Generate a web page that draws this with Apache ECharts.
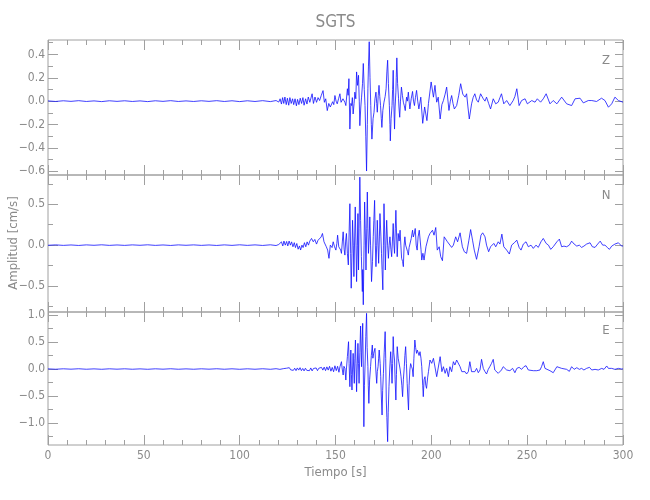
<!DOCTYPE html>
<html><head><meta charset="utf-8">
<script src="https://cdn.jsdelivr.net/npm/echarts@6/dist/echarts.min.js"></script>
<style>html,body{margin:0;padding:0;background:#fff}#c{width:650px;height:500px}</style>
</head><body><div id="c"></div>
<script>
const xMajor = [0,50,100,150,200,250,300];
const xMinor = [10,20,30,40,60,70,80,90,110,120,130,140,160,170,180,190,210,220,230,240,260,270,280,290];
const zMajor = [-0.6,-0.4,-0.2,0,0.2,0.4];
const zMinor = [-0.5,-0.3,-0.1,0.1,0.3,0.5];
const nMajor = [-0.5,0,0.5];
const nMinor = [-0.75,-0.25,0.25,0.75];
const eMajor = [-1,-0.5,0,0.5,1];
const eMinor = [-1.25,-0.75,-0.25,0.25,0.75];
const zLimits = [-0.632, 0.523];
const nLimits = [-0.82, 0.86];
const eLimits = [-1.407, 1.056];
const panelNames = ['Z','N','E'];
const titleText = 'SGTS';
const xName = 'Tiempo [s]';
const yName = 'Amplitud [cm/s]';

const zTrace = [[0,0.002],[4,-0.003],[8,0.003],[12,-0.002],[16,0.004],[20,-0.003],[24,0.002],[28,-0.004],[32,0.003],[36,-0.002],[40,0.003],[44,-0.003],[48,0.002],[52,-0.004],[56,0.003],[60,-0.002],[64,0.004],[68,-0.003],[72,0.002],[76,-0.003],[80,0.003],[84,-0.002],[88,0.004],[92,-0.003],[96,0.003],[100,-0.004],[104,0.003],[108,-0.003],[112,0.004],[116,-0.004],[119,0.005],[120.4,-0.008],
[121.1,0.02],[121.8,-0.025],[122.4,0.03],[123.0,-0.02],[123.6,0.035],[124.3,-0.03],[124.9,0.025],[125.6,-0.035],[126.2,0.03],[126.9,-0.02],[127.6,0.02],[128.2,-0.03],[128.9,0.02],[129.6,-0.04],[130.2,0.015],[130.9,-0.03],[131.6,0.025],[132.3,-0.02],[133.0,0.03],[133.6,-0.035],[134.4,0.02],[135.1,-0.025],[135.8,0.035],[136.6,-0.01],[137.8,0.063],[138.5,-0.02],[139.3,0.035],[140.1,-0.01],[140.9,0.03],[141.7,0.005],[142.6,0.05],[143.5,0.09],[144.2,-0.01],[144.9,0.02],[145.7,-0.081],[146.5,-0.02],[147.3,-0.05],[148.5,-0.005],[149.1,-0.03],[149.7,0.048],[150.3,0.0],[150.9,-0.023],[151.6,0.02],[152.3,0.063],[152.9,-0.01],[153.5,-0.023],[153.9,0.02],[154.3,0.034],[154.9,-0.01],[155.4,-0.038],[156.2,0.106],[156.6,0.05],[157.0,0.192],[157.5,-0.239],[158.0,-0.02],[158.4,-0.038],[158.8,0.03],[159.2,-0.11],[159.7,-0.02],[160.1,0.077],[160.6,0.02],[161.0,0.25],[161.5,0.135],[162.0,0.221],[162.4,0.0],[162.7,-0.21],[163.2,-0.05],[163.6,0.034],[164.1,0.15],[164.5,0.322],[165.0,0.1],[165.4,-0.038],[165.8,-0.3],[166.2,-0.598],[166.6,-0.2],[166.9,0.106],[167.2,0.3],[167.6,0.508],[168.0,0.2],[168.4,-0.038],[168.7,-0.2],[169.0,-0.325],[169.6,-0.15],[170.1,-0.095],[170.6,0.02],[171.1,0.077],[171.5,-0.02],[171.8,-0.095],[172.3,0.05],[172.7,0.135],[173.1,0.04],[173.5,-0.038],[173.9,-0.15],[174.2,-0.225],[174.7,-0.08],[175.3,-0.009],[175.9,0.04],[176.4,0.106],[176.8,0.25],[177.2,0.35],[177.6,0.15],[178.1,-0.038],[178.4,-0.2],[178.6,-0.34],[179.0,-0.15],[179.5,-0.038],[179.8,0.1],[180.1,0.264],[180.4,0.0],[180.8,-0.239],[181.1,-0.05],[181.5,0.077],[181.7,0.2],[182.0,0.37],[182.4,0.15],[182.9,0.02],[183.1,-0.05],[183.5,-0.138],[183.9,0.0],[184.4,0.12],[184.9,0.05],[185.4,-0.009],[185.9,-0.04],[186.4,-0.081],[186.7,-0.02],[187.1,0.034],[187.5,0.0],[188.0,0.077],[188.4,0.0],[188.8,-0.067],[189.5,0.02],[190.2,0.083],[190.7,0.0],[191.2,-0.038],[191.7,0.03],[192.3,0.092],[192.9,0.0],[193.5,-0.067],[194.5,0.034],[195.5,-0.19],[196.5,-0.05],[197.7,-0.167],[198.5,-0.02],[199.9,0.164],[201.1,0.034],[201.9,0.135],[202.8,-0.009],[203.6,0.034],[204.6,-0.153],[205.5,-0.03],[206.3,0.005],[207.2,0.06],[208.0,0.12],[208.7,0.0],[209.2,-0.08],[209.9,0.0],[210.6,0.048],[211.3,-0.02],[212.0,-0.067],[213.2,-0.038],[214.3,0.05],[215.3,0.149],[216.4,0.06],[217.6,0.034],[218.4,0.063],[219.1,-0.05],[219.8,-0.153],[221.0,-0.023],[221.8,0.03],[222.7,0.063],[223.6,0.01],[224.5,-0.009],[225.7,0.063],[227.1,0.02],[228.0,0.0],[228.8,0.034],[229.9,-0.02],[230.9,-0.067],[232.3,0.02],[233.6,-0.023],[234.9,-0.009],[235.8,0.03],[236.6,0.063],[237.8,-0.023],[239.3,0.005],[241.0,-0.038],[242.7,0.005],[243.6,0.04],[244.6,0.106],[245.8,-0.038],[247.1,0.005],[248.9,0.02],[250.1,-0.023],[252.4,0.005],[254.1,-0.009],[255.3,0.02],[257.0,-0.009],[258.4,0.02],[259.9,0.063],[261.9,-0.023],[263.6,0.005],[265.5,-0.023],[268.0,0.034],[270.6,-0.023],[273.2,-0.038],[275.0,0.02],[277.6,0.025],[279.3,-0.015],[281.9,0.005],[283.7,0.005],[286.2,-0.003],[288.8,0.025],[290.6,0.005],[292.4,-0.052],[294.1,-0.023],[295.8,0.034],[297.6,0.005],[300,-0.009]];

const nTrace = [[0,-0.002],[4,0.003],[8,-0.003],[12,0.002],[16,-0.004],[20,0.003],[24,-0.002],[28,0.004],[32,-0.003],[36,0.002],[40,-0.003],[44,0.003],[48,-0.002],[52,0.004],[56,-0.003],[60,0.002],[64,-0.004],[68,0.003],[72,-0.002],[76,0.003],[80,-0.003],[84,0.002],[88,-0.004],[92,0.003],[96,-0.003],[100,0.004],[104,-0.003],[108,0.003],[112,-0.004],[116,0.004],[119,-0.005],[120.4,0.008],
[121.1,0.01],[121.8,0.04],[122.5,-0.01],[123.1,0.05],[123.8,0.0],[124.5,0.045],[125.1,-0.01],[125.8,0.05],[126.5,0.0],[127.1,0.04],[127.8,-0.02],[128.5,0.03],[129.1,-0.03],[129.8,0.02],[130.5,-0.05],[131.2,-0.01],[131.8,-0.06],[132.5,0.0],[133.1,-0.03],[133.8,0.03],[134.5,-0.02],[135.2,0.04],[135.9,0.0],[136.6,0.05],[137.5,0.082],[138.4,0.041],[139.2,0.07],[140.1,0.013],[140.9,0.06],[141.8,0.061],[142.5,0.1],[143.2,0.143],[144.0,0.041],[144.7,0.06],[145.2,-0.02],[145.9,-0.06],[146.6,-0.162],[147.3,0.0],[148.2,-0.03],[148.8,0.041],[149.5,-0.02],[150.2,-0.061],[150.7,0.02],[151.1,0.122],[151.7,-0.02],[152.3,0.0],[152.7,-0.06],[153.1,-0.101],[153.6,0.05],[154.0,0.163],[154.5,-0.05],[154.9,-0.122],[155.3,0.05],[155.7,0.143],[156.2,-0.1],[156.7,-0.243],[157.1,0.15],[157.5,0.508],[157.9,-0.1],[158.2,-0.528],[158.6,-0.1],[158.9,0.305],[159.3,0.0],[159.6,-0.386],[160.0,0.1],[160.3,0.468],[160.7,0.0],[161.0,-0.447],[161.4,0.0],[161.7,0.387],[162.0,-0.305],[162.3,0.2],[162.7,0.834],[163.1,0.3],[163.5,-0.142],[164.0,-0.569],[164.2,-0.3],[164.5,-0.731],[164.9,0.0],[165.2,0.529],[165.6,0.1],[165.9,-0.305],[166.3,0.2],[166.6,0.651],[166.9,0.2],[167.2,-0.101],[167.6,0.1],[167.9,0.346],[168.3,0.0],[168.8,-0.447],[169.3,-0.2],[169.7,0.102],[170.0,0.3],[170.4,0.549],[170.8,0.0],[171.1,-0.264],[171.5,0.0],[171.8,0.305],[172.2,0.0],[172.5,-0.223],[172.9,0.1],[173.2,0.387],[173.7,0.1],[174.0,-0.101],[174.3,-0.3],[174.7,-0.548],[175.0,0.0],[175.3,0.508],[175.7,0.1],[176.0,-0.305],[176.3,0.0],[176.7,0.305],[177.2,0.0],[177.6,-0.162],[178.0,0.0],[178.4,0.102],[178.9,-0.05],[179.3,-0.142],[179.7,0.05],[180.1,0.265],[180.5,0.0],[180.8,-0.101],[181.2,0.2],[181.5,0.427],[181.9,0.1],[182.2,-0.142],[182.7,0.143],[183.2,0.05],[183.7,0.183],[184.1,0.0],[184.5,-0.162],[185.0,-0.2],[185.4,-0.264],[185.8,0.0],[186.2,0.102],[186.6,0.0],[187.1,-0.02],[187.6,-0.08],[188.0,-0.122],[188.4,-0.03],[188.8,-0.02],[189.5,0.08],[190.2,0.183],[190.6,0.1],[190.9,0.102],[191.2,0.15],[191.6,0.204],[192.1,0.0],[192.6,-0.061],[193.1,0.1],[193.7,0.183],[194.1,0.183],[194.6,-0.05],[195.0,-0.183],[195.6,-0.1],[196.2,-0.183],[197.2,-0.02],[198.5,0.102],[199.3,0.143],[200.6,0.183],[201.4,0.122],[202.3,0.216],[203.1,-0.061],[204.1,-0.02],[204.9,-0.142],[205.8,-0.191],[206.7,0.102],[207.5,0.082],[208.4,0.041],[209.4,0.061],[210.6,-0.028],[211.5,0.0],[212.7,0.102],[213.7,0.041],[215.0,0.151],[216.2,-0.02],[217.2,-0.081],[218.4,-0.101],[219.6,0.061],[220.5,0.191],[221.5,0.061],[222.4,-0.061],[223.6,-0.174],[224.9,-0.02],[225.9,0.122],[226.8,0.151],[228.0,0.102],[228.8,0.0],[229.9,-0.081],[230.9,-0.02],[231.9,-0.04],[232.6,0.021],[233.6,-0.02],[234.9,0.041],[235.8,0.013],[236.8,0.135],[237.8,-0.02],[239.3,-0.061],[240.7,-0.109],[241.9,0.0],[243.3,0.029],[244.6,0.061],[245.8,-0.028],[246.8,-0.061],[248.0,0.013],[249.4,0.041],[250.6,-0.02],[252.0,0.0],[253.2,-0.04],[254.6,0.0],[255.8,-0.028],[257.2,0.041],[258.4,0.082],[259.9,0.021],[261.1,0.0],[262.3,-0.052],[263.6,-0.02],[265.5,0.041],[266.8,0.074],[268.0,-0.02],[269.2,-0.012],[270.6,-0.02],[272.0,0.0],[273.2,0.049],[274.5,0.013],[275.9,-0.012],[277.2,0.0],[278.4,-0.028],[279.6,-0.012],[281.0,0.013],[282.8,0.029],[284.0,-0.02],[285.4,-0.028],[286.8,0.013],[288.1,0.049],[289.4,0.0],[290.6,0.0],[291.8,-0.028],[292.9,-0.052],[294.1,-0.012],[295.8,0.013],[297.6,0.029],[299.3,-0.012],[300,-0.01]];

const eTrace = [[0,0.003],[4,-0.004],[8,0.004],[12,-0.003],[16,0.005],[20,-0.004],[24,0.003],[28,-0.005],[32,0.004],[36,-0.003],[40,0.004],[44,-0.004],[48,0.003],[52,-0.005],[56,0.004],[60,-0.003],[64,0.005],[68,-0.004],[72,0.003],[76,-0.004],[80,0.004],[84,-0.003],[88,0.005],[92,-0.004],[96,0.004],[100,-0.005],[104,0.004],[108,-0.004],[112,0.005],[116,-0.005],[119,0.006],[121,-0.006],[123,0.008],
[124.5,0.015],[125.2,-0.02],[125.9,0.025],[126.6,-0.015],[127.3,0.02],[128.0,-0.025],[128.7,0.015],[129.4,-0.03],[130.1,0.02],[130.8,-0.02],[131.5,0.025],[132.2,-0.03],[132.9,0.01],[133.6,-0.035],[134.3,0.015],[135.0,-0.025],[135.7,0.01],[136.4,-0.03],[137.1,0.02],[137.8,-0.035],[138.5,0.01],[139.2,-0.025],[139.9,0.02],[140.6,-0.03],[141.3,0.015],[142.0,-0.02],[142.7,0.03],[143.4,-0.02],[144.1,0.035],[144.8,-0.03],[145.5,0.04],[146.2,-0.02],[146.9,0.05],[147.6,-0.04],[148.3,0.03],[149.0,-0.05],[149.7,0.06],[150.4,-0.03],[151.1,0.05],[151.8,-0.06],[152.3,0.04],
[153.1,0.136],[153.5,0.0],[154.0,-0.111],[154.4,0.05],[154.9,0.012],[155.4,-0.204],[155.7,0.0],[156.2,0.229],[156.8,0.506],[157.1,0.1],[157.5,-0.327],[158.0,0.352],[158.3,-0.1],[158.6,-0.389],[158.9,0.0],[159.2,0.29],[159.5,0.0],[159.8,-0.265],[160.1,0.2],[160.4,0.537],[160.7,0.1],[161.0,-0.42],[161.3,0.0],[161.7,0.475],[162.0,0.1],[162.3,-0.265],[162.7,0.3],[163.1,0.797],[163.4,0.3],[163.6,0.043],[163.9,0.5],[164.2,0.846],[164.5,0.0],[164.8,-1.068],[165.1,-0.3],[165.5,0.167],[165.8,0.6],[166.2,1.031],[166.5,0.4],[166.9,0.043],[167.1,-0.3],[167.4,-0.636],[167.8,-0.2],[168.3,0.043],[168.7,0.25],[169.2,0.444],[169.5,0.2],[169.9,0.29],[170.2,0.3],[170.6,0.383],[171.0,0.0],[171.5,-0.265],[171.8,-0.05],[172.2,0.043],[172.5,0.2],[172.8,0.352],[173.3,0.1],[173.6,-0.142],[173.9,-0.5],[174.3,-0.852],[174.6,-0.4],[175.0,-0.08],[175.4,0.3],[175.9,0.692],[176.2,0.2],[176.5,-0.574],[176.8,-0.9],[177.2,-1.345],[177.5,-0.8],[177.9,-0.327],[178.3,0.0],[178.8,0.321],[179.1,0.1],[179.5,-0.265],[179.8,0.1],[180.1,0.6],[180.4,0.3],[180.8,0.167],[181.1,-0.2],[181.5,-0.574],[181.8,-0.1],[182.2,0.414],[182.7,0.2],[183.3,0.229],[183.7,0.0],[184.2,-0.142],[184.6,-0.3],[185.0,-0.512],[185.4,-0.2],[185.9,0.043],[186.2,0.25],[186.6,0.414],[187.0,0.1],[187.4,-0.265],[187.7,-0.5],[188.1,-0.759],[188.4,-0.3],[188.8,-0.018],[189.2,0.1],[189.7,0.043],[190.1,0.0],[190.5,-0.142],[190.9,0.2],[191.4,0.537],[191.8,0.4],[192.3,0.29],[192.7,0.35],[193.1,0.321],[193.6,0.25],[194.1,0.321],[194.6,0.2],[195.0,0.043],[195.5,-0.3],[195.8,-0.512],[196.2,-0.2],[196.7,-0.142],[197.1,-0.3],[197.5,-0.358],[198.1,-0.15],[198.5,-0.049],[199.3,0.167],[200.2,0.105],[201.1,0.198],[201.9,0.229],[202.8,-0.142],[203.7,-0.173],[204.6,0.229],[205.5,-0.049],[206.3,0.043],[207.2,-0.08],[208.0,0.012],[208.9,-0.142],[209.7,0.043],[210.6,-0.049],[211.5,0.136],[212.3,0.074],[213.2,0.167],[214.1,0.198],[215.0,0.043],[215.9,-0.049],[216.7,-0.08],[217.6,-0.049],[218.4,-0.092],[219.3,-0.049],[220.1,0.136],[221.0,-0.049],[221.9,-0.031],[222.7,-0.049],[223.6,0.012],[224.5,-0.068],[225.4,-0.018],[226.2,0.179],[227.1,0.012],[228.0,-0.049],[228.8,-0.092],[229.7,-0.006],[230.5,0.043],[231.4,0.105],[232.3,0.179],[233.1,-0.018],[234.1,-0.049],[234.9,-0.08],[235.8,-0.092],[236.6,-0.018],[237.5,0.043],[238.4,0.074],[239.3,-0.018],[240.2,-0.006],[241.0,-0.031],[242.4,0.012],[243.6,-0.068],[244.6,0.012],[245.8,0.031],[247.1,-0.006],[248.3,0.043],[249.4,0.062],[250.6,-0.018],[251.4,-0.018],[253.2,-0.031],[255.0,-0.031],[256.7,-0.018],[257.5,0.043],[258.4,0.136],[259.3,0.012],[260.2,0.043],[261.9,-0.031],[263.6,-0.068],[265.5,0.043],[266.3,0.068],[268.0,0.012],[268.9,0.031],[270.6,-0.006],[272.0,-0.043],[273.2,0.043],[274.5,-0.006],[275.9,0.025],[277.2,-0.006],[278.4,0.012],[279.6,-0.018],[281.0,0.012],[282.5,0.031],[283.7,-0.018],[285.4,-0.006],[287.1,-0.018],[288.9,0.012],[290.1,-0.006],[291.5,0.056],[292.4,0.012],[294.1,0.012],[295.8,-0.006],[297.6,0.012],[299.3,0.0],[300,0.003]];

const FF = "'Liberation Sans Narrow','DejaVu Sans Condensed','Liberation Sans',sans-serif";
const AX = '#a0a0a0';
const TX = '#8a8a8a';
const LINE = '#1010ff';

const panels = [
  {name:panelNames[0], data:zTrace, lim:zLimits, major:zMajor, minor:zMinor, top:40, height:135},
  {name:panelNames[1], data:nTrace, lim:nLimits, major:nMajor, minor:nMinor, top:175, height:137},
  {name:panelNames[2], data:eTrace, lim:eLimits, major:eMajor, minor:eMinor, top:312, height:133}
];

const fmt = v => (v < 0 ? '\u2212' : '') + Math.abs(v).toFixed(1);

const grid = [], xAxis = [], yAxis = [], series = [], graphic = [];
panels.forEach((p, i) => {
  grid.push({left:48, width:575, top:p.top, height:p.height, show:true, borderColor:AX, borderWidth:1, backgroundColor:'rgba(0,0,0,0)'});
  const xb = {type:'value', gridIndex:i, min:0, max:300, axisLine:{show:false, onZero:false}, splitLine:{show:false}, minorTick:{show:false}, minorSplitLine:{show:false}};
  const tk = (vals, len) => ({show:true, inside:true, length:len, customValues:vals, lineStyle:{color:AX, width:1}});
  const mainX = xAxis.length;
  xAxis.push(Object.assign({}, xb, {position:'bottom', axisTick:tk(xMajor,10),
    axisLabel:{show:i===2, customValues:xMajor, color:TX, fontSize:12, fontFamily:FF, margin:5},
    name: i===2 ? xName : '', nameLocation:'middle', nameGap:21,
    nameTextStyle:{color:TX, fontSize:13, fontFamily:FF}}));
  xAxis.push(Object.assign({}, xb, {position:'bottom', axisTick:tk(xMinor,5), axisLabel:{show:false}}));
  xAxis.push(Object.assign({}, xb, {position:'top', axisTick:tk(xMajor,10), axisLabel:{show:false}}));
  xAxis.push(Object.assign({}, xb, {position:'top', axisTick:tk(xMinor,5), axisLabel:{show:false}}));
  const yb = {type:'value', gridIndex:i, min:p.lim[0], max:p.lim[1], axisLine:{show:false, onZero:false}, splitLine:{show:false}, minorTick:{show:false}, minorSplitLine:{show:false}};
  const mainY = yAxis.length;
  yAxis.push(Object.assign({}, yb, {position:'left', axisTick:tk(p.major,10),
    axisLabel:{show:true, customValues:p.major, formatter:fmt, color:TX, fontSize:12, fontFamily:FF, margin:3}}));
  yAxis.push(Object.assign({}, yb, {position:'left', axisTick:tk(p.minor,5), axisLabel:{show:false}}));
  const all = p.major.concat(p.minor).sort((a,b)=>a-b);
  yAxis.push(Object.assign({}, yb, {position:'right', axisTick:tk(all,8), axisLabel:{show:false}}));
  series.push({type:'line', name:p.name, xAxisIndex:mainX, yAxisIndex:mainY, data:p.data,
    showSymbol:false, symbol:'none', silent:true, animation:false,
    lineStyle:{width:0.8, color:LINE}});
});

const labelY = [61, 196, 331];
panels.forEach((p, i) => {
  graphic.push({type:'text', x:606, y:labelY[i], style:{text:p.name, fill:TX, fontSize:13, fontFamily:FF, textAlign:'center', textVerticalAlign:'middle'}});
});
graphic.push({type:'text', x:335.5, y:23, style:{text:titleText, fill:TX, fontSize:17, fontFamily:FF, textAlign:'center', textVerticalAlign:'middle'}});
graphic.push({type:'text', x:14, y:243, rotation:Math.PI/2, style:{text:yName, fill:TX, fontSize:13, fontFamily:FF, textAlign:'center', textVerticalAlign:'middle'}});

const chart = echarts.init(document.getElementById('c'), null, {renderer:'canvas'});
chart.setOption({animation:false, backgroundColor:'#ffffff', grid, xAxis, yAxis, series, graphic});
</script>
</body></html>
